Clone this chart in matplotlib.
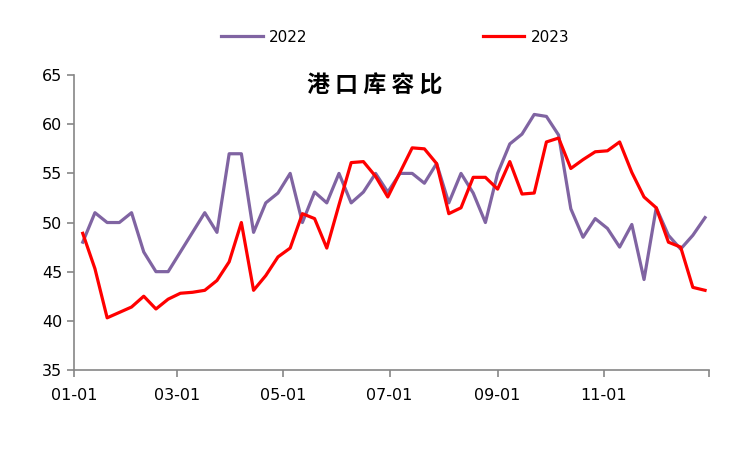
import matplotlib
matplotlib.use("Agg")
import matplotlib.pyplot as plt
import matplotlib.dates as mdates
import numpy as np
import pandas as pd

# weekly port capacity ratio (%), both years drawn on the same month-day axis
dates = pd.date_range("2023-01-06", periods=52, freq="7D")

y2022 = [48.0, 51.0, 50.0, 50.0, 51.0, 47.0, 45.0, 45.0, 47.0, 49.0,
         51.0, 49.0, 57.0, 57.0, 49.0, 52.0, 53.0, 55.0, 50.0, 53.1,
         52.0, 55.0, 52.0, 53.1, 55.0, 53.1, 55.0, 55.0, 54.0, 56.0,
         52.0, 55.0, 53.0, 50.0, 55.0, 58.0, 59.0, 61.0, 60.8, 58.9,
         51.4, 48.5, 50.4, 49.4, 47.5, 49.8, 44.2, 51.5, 48.7, 47.3,
         48.7, 50.5]
y2023 = [48.9, 45.3, 40.3, 40.85, 41.4, 42.5, 41.2, 42.2, 42.8, 42.9,
         43.1, 44.1, 46.0, 50.0, 43.1, 44.6, 46.5, 47.4, 50.9, 50.4,
         47.4, 51.8, 56.1, 56.2, 54.7, 52.6, 55.1, 57.6, 57.5, 56.0,
         50.9, 51.5, 54.6, 54.6, 53.4, 56.2, 52.9, 53.0, 58.2, 58.6,
         55.5, 56.4, 57.2, 57.3, 58.2, 55.1, 52.6, 51.5, 48.0, 47.5,
         43.4, 43.1]

tick_dates = pd.to_datetime(["2023-01-01", "2023-03-01", "2023-05-01",
                             "2023-07-01", "2023-09-01", "2023-11-01",
                             "2023-12-31"])
tick_labels = ["01-01", "03-01", "05-01", "07-01", "09-01", "11-01", ""]
yticks = [35, 40, 45, 50, 55, 60, 65]

fig = plt.figure(figsize=(7.5, 4.5), dpi=100)
ax = fig.add_axes([0.0987, 0.178, 0.846, 0.655])

ax.plot(dates, y2022, color="#8064A2", lw=2.3, label="2022")
ax.plot(dates, y2023, color="#FF0000", lw=2.3, label="2023")

ax.set_xlim(tick_dates[0], tick_dates[-1])
ax.set_ylim(35, 65)
ax.set_yticks(yticks)
ax.set_xticks(tick_dates)
ax.set_xticklabels(tick_labels)

for s in ["top", "right"]:
    ax.spines[s].set_visible(False)
for s in ["left", "bottom"]:
    ax.spines[s].set_color("#868686")
    ax.spines[s].set_linewidth(1.2)
ax.tick_params(axis="both", colors="#868686", length=5, width=1.2,
               labelsize=11.5, labelcolor="black")
ax.tick_params(axis="x", pad=8)
for lab in ax.get_xticklabels() + ax.get_yticklabels():
    lab.set_family(["Liberation Sans Narrow", "DejaVu Sans"])

fig.text(0.499, 0.835, "港 口 库 容 比", ha="center", va="top",
         fontsize=16.5, fontweight="bold", family=["Noto Sans CJK SC", "DejaVu Sans"])

fig.legend(loc="upper center", bbox_to_anchor=(0.527, 0.965), ncol=2, frameon=False,
           fontsize=11, handlelength=2.7, columnspacing=11.5, handletextpad=0.4)

fig.savefig("out.png", dpi=100)
